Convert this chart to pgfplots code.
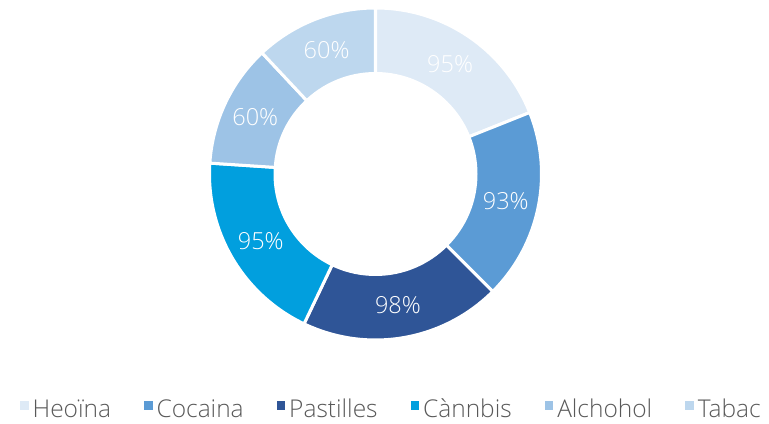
\documentclass[border=0pt]{standalone}
\usepackage{pgfplots}
\pgfplotsset{compat=1.18}
\usepackage{pgfplotstable}
\usepackage{fontspec}
\setmainfont{Open Sans}[UprightFont={* Light}]

\definecolor{slice0}{HTML}{DEEAF6}
\definecolor{slice1}{HTML}{5B9BD5}
\definecolor{slice2}{HTML}{2F5597}
\definecolor{slice3}{HTML}{019FDE}
\definecolor{slice4}{HTML}{9DC3E6}
\definecolor{slice5}{HTML}{BDD7EE}
\definecolor{legendgray}{HTML}{595959}

\pgfplotstableread{
value
95
93
98
95
60
60
}\donutdata

\pgfplotstablegetrowsof{\donutdata}
\pgfmathtruncatemacro\nrows{\pgfplotsretval-1}
\xdef\donuttotal{0}
\foreach \i in {0,...,\nrows}{%
  \pgfplotstablegetelem{\i}{value}\of\donutdata
  \pgfmathsetmacro\t{\donuttotal+\pgfplotsretval}%
  \xdef\donuttotal{\t}%
}
\xdef\curang{90}
\foreach \i in {0,...,\nrows}{%
  \pgfplotstablegetelem{\i}{value}\of\donutdata
  \edef\v{\pgfplotsretval}%
  \pgfmathsetmacro\e{\curang-360*(\v/\donuttotal)}%
  \pgfmathsetmacro\m{(\curang+\e)/2}%
  \expandafter\xdef\csname dA\i\endcsname{\curang}%
  \expandafter\xdef\csname dE\i\endcsname{\e}%
  \expandafter\xdef\csname dM\i\endcsname{\m}%
  \expandafter\xdef\csname dV\i\endcsname{\v}%
  \xdef\curang{\e}%
}

\def\cx{375.5}
\def\cy{247}
\def\Ro{166}
\def\Ri{102}
\def\Rm{133}

\begin{document}
\begin{tikzpicture}
\begin{axis}[
  width=769pt, height=421pt, scale only axis,
  xmin=0, xmax=769, ymin=0, ymax=421,
  hide axis, clip=false,
  legend style={at={(axis cs:391.5,12)}, anchor=center, draw=none, fill=none,
    legend columns=6, font=\fontsize{24.5}{24.5}\selectfont, text=legendgray,
    /tikz/every odd column/.append style={column sep=2pt},
    /tikz/every even column/.append style={column sep=31pt}},
  legend image code/.code={\fill[#1, draw=none] (0pt,-1pt) rectangle (8.5pt,7.5pt);},
  legend cell align=left,
]
\path (rel axis cs:0,0) rectangle (rel axis cs:1,1);
\pgfplotsinvokeforeach{0,...,5}{%
  \edef\slicecmd{\noexpand\fill[fill=slice#1, draw=white, line width=3pt, line join=round]
    (axis cs:\cx,\cy) -- ++(\csname dA#1\endcsname:\Ro pt)
    arc[start angle=\csname dA#1\endcsname, end angle=\csname dE#1\endcsname, radius=\Ro pt] -- cycle;}%
  \slicecmd
}
\fill[white] (axis cs:\cx,\cy) circle[radius=\Ri pt];
\pgfplotsinvokeforeach{0,...,5}{%
  \edef\labcmd{\noexpand\node[text=white, font=\noexpand\fontsize{23.5}{23.5}\noexpand\selectfont, anchor=center]
    at (axis cs:{\cx+\Rm*cos(\csname dM#1\endcsname)},{\cy+\Rm*sin(\csname dM#1\endcsname)}) {\csname dV#1\endcsname\noexpand\%};}%
  \labcmd
}
\addlegendimage{fill=slice0}
\addlegendentry{Heoïna}
\addlegendimage{fill=slice1}
\addlegendentry{Cocaina}
\addlegendimage{fill=slice2}
\addlegendentry{Pastilles}
\addlegendimage{fill=slice3}
\addlegendentry{Cànnbis}
\addlegendimage{fill=slice4}
\addlegendentry{Alchohol}
\addlegendimage{fill=slice5}
\addlegendentry{Tabac}
\end{axis}
\end{tikzpicture}
\end{document}
